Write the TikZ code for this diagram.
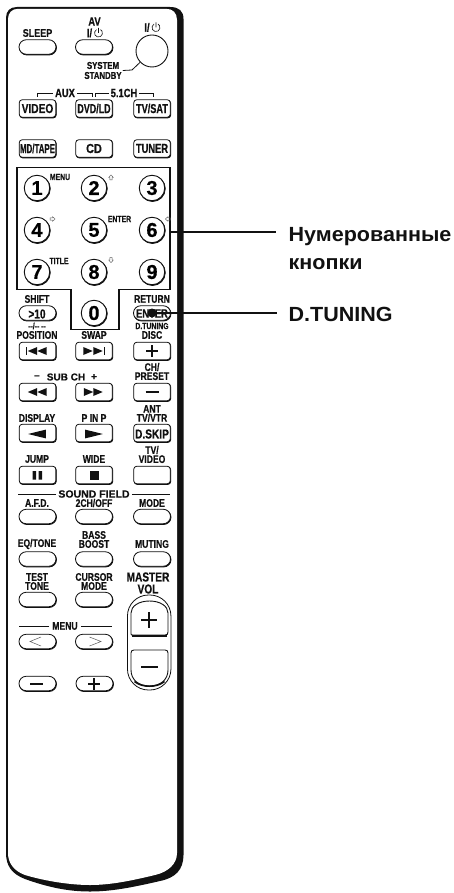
\documentclass[tikz,border=0pt]{standalone}
\usepackage{fontspec}
\setmainfont[BoldFeatures={FakeBold=0.5}]{Liberation Sans}
\newfontfamily\keyfont[FakeStretch=0.78, BoldFeatures={FakeBold=0.5}]{Liberation Sans}
\newfontfamily\callfont[FakeStretch=1.05]{Liberation Sans}
\usetikzlibrary{shapes,shadows,positioning,calc}
\definecolor{rcInk}{HTML}{111111}
\tikzset{
  keyshadow/.style={copy shadow={shadow xshift=.5pt, shadow yshift=-.7pt, opacity=1, fill=rcInk, draw=rcInk}},
  ovalk/.style={rounded rectangle, draw=rcInk, fill=white, line width=.8pt, keyshadow, minimum width=37pt, minimum height=14.5pt, inner sep=0pt},
  rectk/.style={rectangle, rounded corners=3pt, draw=rcInk, fill=white, line width=.8pt, keyshadow, minimum width=36.5pt, minimum height=17.5pt, inner sep=0pt},
  numk/.style={circle, draw=rcInk, fill=white, line width=.9pt, keyshadow, minimum size=25.5pt, inner sep=0pt, font=\bfseries\fontsize{20}{20}\selectfont},
  lbl/.style={inner sep=0pt, align=center, text=rcInk, font=\keyfont\bfseries\fontsize{11}{9}\selectfont},
  lblS/.style={lbl, font=\keyfont\bfseries\fontsize{8.8}{8}\selectfont},
  call/.style={inner sep=0pt, anchor=west, align=left, text=rcInk, font=\callfont\bfseries\fontsize{20.5}{28}\selectfont},
  thinl/.style={draw=rcInk, line width=.8pt},
  ldr/.style={draw=rcInk, line width=1.4pt},
  ltri/.pic={\fill[rcInk] (4.7,-4) -- (-4.7,0) -- (4.7,4) -- cycle;},
  rtri/.pic={\fill[rcInk] (-4.7,-4) -- (4.7,0) -- (-4.7,4) -- cycle;},
  plusg/.pic={\draw[rcInk, line width=1.5pt] (-6,0) -- (6,0) (0,-6) -- (0,6);},
  minusg/.pic={\draw[rcInk, line width=1.5pt] (-6.5,0) -- (6.5,0);},
  plusb/.pic={\draw[rcInk, line width=2.4pt] (-8,0) -- (8,0) (0,-8) -- (0,8);},
  minusb/.pic={\draw[rcInk, line width=2.2pt] (-8.5,0) -- (8.5,0);},
  hollowa/.pic={\draw[rcInk!70, line width=.4pt] (0,-2.6) -- (2.4,0) -- (1.1,0) -- (1.1,2.4) -- (-1.1,2.4) -- (-1.1,0) -- (-2.4,0) -- cycle;},
  pwrg/.pic={\draw[rcInk, line width=.6pt] (-2,-3.4) arc[start angle=120, end angle=420, radius=4pt] (0,-5.2) -- (0,0);},
}
\begin{document}
\begin{tikzpicture}[x=1pt, y=-1pt]
\useasboundingbox (0,0) rectangle (454,893);
% body
\fill[rcInk] (17,7) -- (170,7) .. controls (179,7) and (183.5,11) .. (183.5,19) -- (183.5,855)
  .. controls (183.5,870) and (175,878) .. (160,881) .. controls (130,888) and (110,891.5) .. (90,891.5)
  .. controls (70,891.5) and (50,888) .. (25,879) .. controls (12,874) and (6,866) .. (6,853) -- (6,18) .. controls (6,11) and (10,7) .. (17,7) -- cycle;
\fill[white] (18,8.8) -- (166,8.8) .. controls (173,8.8) and (177,13) .. (177,20) -- (177,853)
  .. controls (177,864) and (168,872) .. (155,875) .. controls (130,881) and (110,885) .. (90,885)
  .. controls (70,885) and (45,881) .. (25,875) .. controls (14,871) and (8,863) .. (8,853) -- (8,19) .. controls (8,13) and (12,8.8) .. (18,8.8) -- cycle;
% top keys
\node[ovalk] (sleepk) at (37.5,47) {};
\node[ovalk] (avk) at (94,47) {};
\node[circle, draw=rcInk, fill=white, line width=.9pt, minimum size=32pt, inner sep=0pt] (sysk) at (152,51) {};
\node[lbl, xscale=1.05] (sleepT) at (37.5,33) {SLEEP};
\node[lbl, font=\keyfont\bfseries\fontsize{12}{12}\selectfont] (avT) at (94.5,21.5) {AV};
\node[lbl, font=\keyfont\bfseries\fontsize{12}{12}\selectfont] (avpT) at (89.5,33) {I/};
\pic at (98.5,33) {pwrg};
\node[lbl, font=\keyfont\bfseries\fontsize{12}{12}\selectfont] (syspT) at (147,27.5) {I/};
\pic at (156,27.5) {pwrg};
\node[lblS, font=\keyfont\bfseries\fontsize{10}{10}\selectfont] (sysT) at (103,70.5) {SYSTEM\\STANDBY};
\draw[thinl] (sysT.east) ++(1,0) -- (132,70) -- (sysk);
% source row
\node[lbl, font=\keyfont\bfseries\fontsize{12}{10}\selectfont] (auxT) at (65,93) {AUX};
\node[lbl, font=\keyfont\bfseries\fontsize{12}{10}\selectfont] (chT) at (124,93) {5.1CH};
\draw[thinl] ([xshift=-2pt]auxT.west) -- (37,93) -- (37,97);
\draw[thinl] ([xshift=2pt]auxT.east) -- (92,93) -- (92,97);
\draw[thinl] ([xshift=-2pt]chT.west) -- (95,93) -- (95,97);
\draw[thinl] ([xshift=2pt]chT.east) -- (153,93) -- (153,97);
\foreach \nm/\cx/\cy/\sx/\txt in {videok/37.5/108.5/1/VIDEO,dvdk/94/108.5/.88/{DVD/LD},tvk/152/108.5/.9/{TV/SAT},mdk/37.5/148.5/.78/{MD/TAPE},cdk/94/148.5/1.08/CD,tunerk/152/148.5/.92/TUNER}
  {\node[rectk] (\nm) at (\cx,\cy) {};
   \node[inner sep=0pt, xscale=\sx, text=rcInk, font=\keyfont\bfseries\fontsize{13}{13}\selectfont] (\nm T) at (\cx,\cy) {\txt};}
% number pad
\draw[rcInk, line width=1.8pt] (17,167.5) -- (170,167.5) -- (170,289.5) -- (119,289.5) -- (119,329.5) -- (71,329.5) -- (71,289.5) -- (17,289.5) -- cycle;
\coordinate (padR) at (170,232);
\foreach \nm/\cx/\cy/\txt in {n1/37/188/1,n2/94/188/2,n3/152/188/3,n4/37/230/4,n5/94/230/5,n6/152/230/6,n7/37/272/7,n8/94/272/8,n9/152/272/9,n0/94/313/0}
  \node[numk] (\nm) at (\cx,\cy) {\txt};
\foreach \nm/\cx/\cy/\txt in {menuS/60/177/MENU,enterS/119.5/219/ENTER,titleS/59/261/TITLE}
  \node[lblS] (\nm) at (\cx,\cy) {\txt};
\pic at (111,177.5) {hollowa};
\pic[rotate=-90] at (52.5,219) {hollowa};
\pic[rotate=90] at (168,219) {hollowa};
\pic[rotate=180] at (111,260) {hollowa};
% ovals
\foreach \nm/\cx/\cy in {shiftk/37.5/313,returnk/152/313,afdk/37.5/516.5,twochk/94/516.5,modek/152/516.5,eqk/37.5/559,bassk/94/559,mutek/152/559,testk/37.5/599.5,cursk/94/599.5,lessk/37.5/641.5,morek/94/641.5,downk/37.5/683.5,upk/94.5/683.5}
  \node[ovalk] (\nm) at (\cx,\cy) {};
\node[lbl, font=\keyfont\bfseries\fontsize{13}{13}\selectfont] (tenT) at (37,314) {>10};
\node[lbl, font=\keyfont\bfseries\fontsize{12}{12}\selectfont] (enterT) at (152,313.5) {ENTER};
\node[circle, fill=rcInk, minimum size=9pt, inner sep=0pt] (dtdot) at (152,313) {};
% rectangular keys
\foreach \nm/\cx/\cy in {prevk/37.5/351,nextk/94/351,discup/152/351,rewk/37.5/392,ffwk/94/392,discdn/152/392,dispk/37.5/433,pipk/94/433,dskipk/152/433,jumpk/37.5/475,widek/94/475,tvvk/152/475}
  \node[rectk] (\nm) at (\cx,\cy) {};
\node[lbl, font=\keyfont\bfseries\fontsize{13}{12}\selectfont] (dskipT) at (152,434) {D.SKIP};
% labels
\foreach \nm/\cx/\cy/\txt in {shiftT/37/299/SHIFT,returnT/152/299/RETURN,posT/37/335/POSITION,swapT/94/335/SWAP,discT/152/335/DISC,presetT/152/371.5/{CH/\\PRESET},dispT/37/418/DISPLAY,pipT/94/418/P IN P,antT/152/413.5/{ANT\\TV/VTR},jumpT/37/459/JUMP,wideT/94/459/WIDE,tvT/152/454.5/{TV/\\VIDEO},afdT/37/503/A.F.D.,chofT/94/503/{2CH/OFF},modeT/152/503/MODE,bassT/94/539.5/{BASS\\BOOST},eqT/37/544/{EQ/TONE},muteT/152/544/MUTING,testT/37/581.5/{TEST\\TONE},cursT/94/581.5/{CURSOR\\MODE}}
  \node[lbl] (\nm) at (\cx,\cy) {\txt};
\node[lblS] (dashT) at (37,326) {--/-- --};
\node[lblS] (dtunT) at (152,326) {D.TUNING};
\node[lbl, font=\bfseries\fontsize{10}{10}\selectfont] (subT) at (66,377) {SUB CH};
\node[lbl, font=\bfseries\fontsize{10}{10}\selectfont] (subM) at (37,377) {--};
\node[lbl, font=\bfseries\fontsize{10}{10}\selectfont] (subP) at (94,377) {+};
\node[lbl, font=\bfseries\fontsize{10.5}{10}\selectfont] (sfT) at (94,494) {SOUND FIELD};
\draw[thinl] ([xshift=-2pt]sfT.west) -- (18,494);
\draw[thinl] ([xshift=2pt]sfT.east) -- (170,494);
\node[lbl] (menuT) at (65,626) {MENU};
\draw[thinl] ([xshift=-3pt]menuT.west) -- (19,626);
\draw[thinl] ([xshift=3pt]menuT.east) -- (112,626);
\node[lbl, font=\keyfont\bfseries\fontsize{13}{12}\selectfont] (volT) at (148,583) {MASTER\\VOL};
% key symbols
\fill[rcInk] (26,347) rectangle (27.3,355);
\pic at (32.5,351) {ltri};
\pic at (42,351) {ltri};
\fill[rcInk] (103.7,347) rectangle (105,355);
\pic at (88,351) {rtri};
\pic at (98,351) {rtri};
\pic at (32.5,392) {ltri};
\pic at (42,392) {ltri};
\pic at (88.5,392) {rtri};
\pic at (98,392) {rtri};
\pic at (152,351) {plusg};
\pic at (152,392) {minusg};
\pic[xscale=1.9, yscale=1.1] at (37,434) {ltri};
\pic[xscale=1.9, yscale=1.1] at (94,434) {rtri};
\fill[rcInk] (32.5,471) rectangle (36,479.5) (38.5,471) rectangle (42,479.5);
\fill[rcInk] (89.5,470.5) rectangle (98.5,479.5);
\draw[rcInk!70, line width=.5pt] (41,637) -- (30,641.5) -- (41,646) (89.5,637) -- (101,641.5) -- (89.5,646);
\pic at (36.5,684) {minusg};
\pic[scale=.95] at (94,684) {plusg};
% master volume
\node[draw=rcInk, fill=white, rounded corners=21pt, line width=.8pt, minimum width=43.5pt, minimum height=95pt, inner sep=0pt] (volcap) at (149.2,642.5) {};
\draw[rcInk, fill=white, line width=.9pt] (131,634) -- (131,613) .. controls (131,606) and (139,601) .. (149.5,601) .. controls (160,601) and (168,606) .. (168,613) -- (168,632) .. controls (168,634.5) and (167,635) .. (165,635) -- (133,635) .. controls (132,635) and (131,635) .. (131,634) -- cycle;
\draw[rcInk, line width=1.6pt] (132,635.7) -- (167,635.7);
\draw[rcInk, fill=white, line width=.9pt] (131,653) .. controls (131,651) and (132,650) .. (134,650) -- (165,650) .. controls (167,650) and (168,651) .. (168,653) -- (168,670) .. controls (168,680) and (160,686) .. (149.5,686) .. controls (139,686) and (131,680) .. (131,670) -- cycle;
\draw[rcInk, line width=1.6pt] (134.5,681.5) .. controls (139,685) and (144,686.2) .. (149.5,686.2) .. controls (155,686.2) and (160,685) .. (164.5,681.5);
\pic at (149,620) {plusb};
\pic at (149.5,667) {minusb};
% callouts
\node[call] (numT) at (288.5,249) {Нумерованные\\кнопки};
\node[call] (dtT) at (288.5,314) {D.TUNING};
\coordinate (numEnd) at (276,232);
\coordinate (dtEnd) at (277,313);
\draw[ldr] (padR) -- (numEnd);
\draw[ldr] (dtdot.center) -- (dtEnd);
\end{tikzpicture}
\end{document}
